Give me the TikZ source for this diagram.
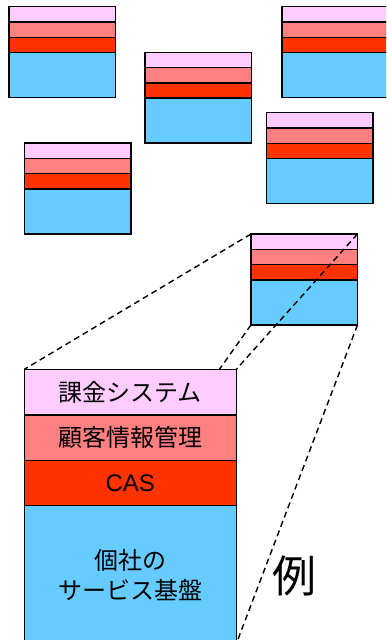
\documentclass[tikz,border=0pt]{standalone}
\usepackage{fontspec}
\setmainfont{Liberation Sans}
\newfontfamily\jp{Noto Sans CJK JP}
\definecolor{lpink}{HTML}{FFCCFF}
\definecolor{lsalmon}{HTML}{FF8080}
\definecolor{lred}{HTML}{FF3300}
\definecolor{lblue}{HTML}{66CCFF}
\pgfdeclarelayer{front}
\pgfsetlayers{main,front}
\tikzset{
  lay/.style={draw=black, line width=1.5pt, inner sep=0pt, outer sep=0pt, anchor=north west, minimum width=106.5pt},
  biglay/.style={draw=black, line width=1.3pt, inner sep=0pt, outer sep=0pt, anchor=north west, minimum width=212pt,
    font=\jp\fontsize{24}{30}\selectfont, align=center},
  dashline/.style={draw=black, line width=1.4pt, dash pattern=on 6pt off 4pt},
}
\newcommand\mystack[3]{%
  \node[lay, fill=lpink, minimum height=15.3pt] (#1-1) at (#2,#3) {};
  \node[lay, fill=lsalmon, minimum height=15.3pt] (#1-2) at (#1-1.south west) {};
  \node[lay, fill=lred, minimum height=15.3pt] (#1-3) at (#1-2.south west) {};
  \node[lay, fill=lblue, minimum height=45pt] (#1-4) at (#1-3.south west) {};
}
\begin{document}
\begin{tikzpicture}[x=1pt,y=-1pt]
\useasboundingbox (0,0) rectangle (386,640);
\clip (0,0) rectangle (386,640);
\mystack{A}{9}{6.7}
\mystack{B}{145}{52.3}
\mystack{C}{282}{6.7}
\mystack{D}{266.5}{112.7}
\mystack{E}{24.3}{143}
\mystack{F}{251}{234}
\begin{pgfonlayer}{front}
  \node[biglay, fill=lpink, minimum height=45.7pt] (G-1) at (24.3,369.3) {課金システム};
  \node[biglay, fill=lsalmon, minimum height=45.3pt] (G-2) at (G-1.south west) {顧客情報管理};
  \node[biglay, fill=lred, minimum height=45.4pt, font=\fontsize{24}{30}\selectfont] (G-3) at (G-2.south west) {CAS};
  \node[biglay, fill=lblue, minimum height=138pt] (G-4) at (G-3.south west) {個社の\\サービス基盤};
\end{pgfonlayer}
\draw[dashline] (F-1.north west) -- (G-1.north west);
\draw[dashline] (F-1.north east) -- (G-1.north east);
\draw[dashline] (F-4.south west) -- (G-4.south west);
\draw[dashline] (F-4.south east) -- (G-4.south east);
\node[font=\jp\fontsize{44}{44}\selectfont, inner sep=0pt] (ex) at (294,576) {例};
\end{tikzpicture}
\end{document}
